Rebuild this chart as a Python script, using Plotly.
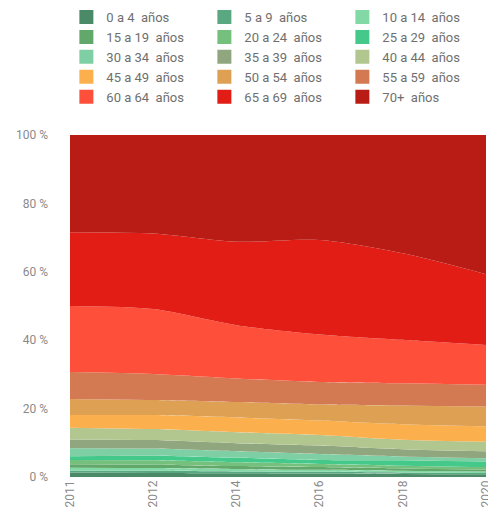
import plotly.graph_objects as go

# Share of total (%) by age group and year
years = ["2011", "2012", "2014", "2016", "2018", "2020"]

age_groups = [
    "0 a 4  años", "5 a 9  años", "10 a 14  años",
    "15 a 19  años", "20 a 24  años", "25 a 29  años",
    "30 a 34  años", "35 a 39  años", "40 a 44  años",
    "45 a 49  años", "50 a 54  años", "55 a 59  años",
    "60 a 64  años", "65 a 69  años", "70+  años",
]

share_0_4 = [1.3, 1.2, 1.1, 1.0, 0.9, 0.8]
share_5_9 = [0.6, 0.6, 0.5, 0.5, 0.4, 0.4]
share_10_14 = [0.8, 0.8, 0.7, 0.6, 0.5, 0.4]
share_15_19 = [1.0, 1.0, 0.9, 0.8, 0.7, 0.6]
share_20_24 = [1.3, 1.3, 1.1, 0.9, 0.8, 0.7]
share_25_29 = [1.1, 1.3, 1.3, 1.2, 1.6, 1.6]
share_30_34 = [2.3, 2.1, 1.9, 1.7, 1.1, 1.0]
share_35_39 = [2.6, 2.5, 2.4, 2.5, 2.1, 2.0]
share_40_44 = [3.4, 3.2, 3.2, 3.1, 2.8, 2.8]
share_45_49 = [3.7, 4.1, 4.3, 4.2, 4.5, 4.5]
share_50_54 = [4.7, 4.4, 4.5, 4.7, 5.5, 5.8]
share_55_59 = [7.9, 7.6, 6.9, 6.6, 6.5, 6.4]
share_60_64 = [19.3, 19.0, 15.6, 13.9, 12.7, 11.6]
share_65_69 = [21.6, 22.1, 24.4, 27.6, 25.3, 20.7]
share_70_plus = [28.4, 28.8, 31.2, 30.7, 34.6, 40.7]

y_ticks = [0, 20, 40, 60, 80, 100]
y_tick_labels = ["0 %", "20 %", "40 %", "60 %", "80 %", "100 %"]

colors = [
    "#4b8a67", "#5aa882", "#82d9a6",
    "#62a86a", "#74c07c", "#45c98a",
    "#7fcfa5", "#90a67e", "#b2c690",
    "#fbb04d", "#dea052", "#d47a52",
    "#fd4f3a", "#e11d16", "#b81c15",
]

series = [
    share_0_4, share_5_9, share_10_14, share_15_19, share_20_24,
    share_25_29, share_30_34, share_35_39, share_40_44, share_45_49,
    share_50_54, share_55_59, share_60_64, share_65_69, share_70_plus,
]

fig = go.Figure()

# Stacked areas, youngest group at the bottom
for name, vals, col in zip(age_groups, series, colors):
    fig.add_trace(go.Scatter(
        x=years, y=vals, name=name, legendgroup=name,
        mode="lines", stackgroup="ages",
        line=dict(width=0, shape="spline", smoothing=0.8, color=col),
        fillcolor=col, showlegend=False,
        hovertemplate="%{x}: %{y:.1f} %<extra>" + name + "</extra>",
    ))

# Square swatches for the legend
for name, col in zip(age_groups, colors):
    fig.add_trace(go.Scatter(
        x=[None], y=[None], name=name, legendgroup=name,
        mode="markers",
        marker=dict(symbol="square", size=14, color=col),
        showlegend=True,
    ))

fig.update_layout(
    width=488, height=510,
    margin=dict(l=70, r=2, t=135, b=33, autoexpand=False),
    paper_bgcolor="white", plot_bgcolor="white",
    font=dict(family="Roboto, Arial, sans-serif", color="#777777"),
    showlegend=True,
    legend=dict(
        orientation="h",
        xref="container", yref="container",
        x=0.136, y=0.888, xanchor="left", yanchor="middle",
        entrywidth=93, entrywidthmode="pixels",
        font=dict(size=13, color="#6f6f6f"),
        bgcolor="rgba(0,0,0,0)",
        traceorder="normal",
    ),
    xaxis=dict(
        type="category", range=[0, 5],
        tickangle=-90, showgrid=False, zeroline=False,
        tickfont=dict(size=12, color="#8a8a8a"),
        ticks="", showline=False,
    ),
    yaxis=dict(
        range=[0, 100], tickmode="array",
        tickvals=y_ticks, ticktext=y_tick_labels,
        showgrid=True, gridcolor="#cccccc",
        griddash="dot", zeroline=False, ticklabelstandoff=21,
        tickfont=dict(size=12, color="#8a8a8a"),
    ),
)

fig.write_html("out.html")
